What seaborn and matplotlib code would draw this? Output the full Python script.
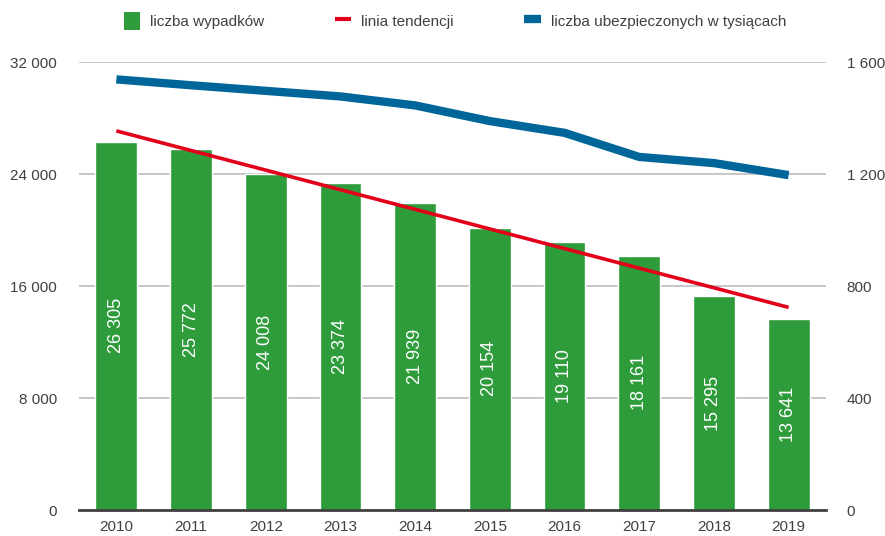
import numpy as np
import pandas as pd
import matplotlib
matplotlib.use("Agg")
import matplotlib.pyplot as plt
from matplotlib.lines import Line2D
from matplotlib.patches import Patch
import seaborn as sns

# ── data ───────────────────────────────────────────────────────────────────
years = ["2010", "2011", "2012", "2013", "2014",
         "2015", "2016", "2017", "2018", "2019"]
accidents = [26305, 25772, 24008, 23374, 21939,
             20154, 19110, 18161, 15295, 13641]
insured_k = [1538, 1517, 1497, 1477, 1445,
             1389, 1347, 1261, 1239, 1196]

left_ticks = [0, 8000, 16000, 24000, 32000]
right_ticks = [0, 400, 800, 1200, 1600]

GREEN = "#2e9c3b"
RED = "#e2001a"
BLUE = "#006699"
TEXT = "#404040"

sns.set_style("white")
plt.rcParams["font.family"] = ["Liberation Sans", "DejaVu Sans"]


def fmt(v):
    return f"{v:,.0f}".replace(",", " ")


df = pd.DataFrame({"rok": years, "wypadki": accidents, "ubezp": insured_k})
df["pos"] = np.arange(len(df))
# linear trend of the accidents (as the spreadsheet trendline would)
slope, icpt = np.polyfit(df["pos"], df["wypadki"], 1)
df["trend"] = icpt + slope * df["pos"]

fig = plt.figure(figsize=(8.85, 5.36), dpi=100)
ax = fig.add_axes([0.0893, 0.0485, 0.8440, 0.8358])

sns.barplot(data=df, x="rok", y="wypadki", color=GREEN, saturation=1,
            width=0.56, ax=ax, zorder=2)
sns.lineplot(data=df, x="pos", y="trend", color=RED, lw=2.6, ax=ax,
             zorder=3, solid_capstyle="butt")

for p, v in zip(ax.patches, accidents):
    ax.text(p.get_x() + p.get_width() / 2, v / 2, fmt(v), rotation=90,
            ha="center", va="center", color="white", fontsize=13)

ax.set_xlim(-0.5, len(years) - 0.5)
ax.set_ylim(0, 32000)
ax.set_yticks(left_ticks)
ax.set_yticklabels([fmt(t) for t in left_ticks])
ax.grid(axis="y", color="#bdbdbd", lw=1.2, zorder=0)
ax.set_axisbelow(True)
ax.set_xlabel("")
ax.set_ylabel("")
for s in ["left", "right", "top"]:
    ax.spines[s].set_visible(False)
ax.spines["bottom"].set_color(TEXT)
ax.spines["bottom"].set_linewidth(2)
ax.tick_params(axis="y", length=0, pad=15.8, labelsize=11, colors=TEXT)
ax.tick_params(axis="x", length=0, pad=7, labelsize=11, colors=TEXT)

ax2 = ax.twinx()
sns.lineplot(data=df, x="pos", y="ubezp", color=BLUE, lw=6, ax=ax2,
             solid_capstyle="butt")
ax2.set_ylim(0, 1600)
ax2.set_yticks(right_ticks)
ax2.set_yticklabels([fmt(t) for t in right_ticks])
ax2.set_ylabel("")
for s in ax2.spines.values():
    s.set_visible(False)
ax2.tick_params(axis="y", length=0, pad=15, labelsize=11, colors=TEXT)

handles = [
    Patch(facecolor=GREEN, edgecolor="none"),
    Line2D([0], [0], color=RED, lw=3, solid_capstyle="butt"),
    Line2D([0], [0], color=BLUE, lw=6, solid_capstyle="butt"),
]
labels = ["liczba wypadków", "linia tendencji",
          "liczba ubezpieczonych w tysiącach"]
fig.legend(handles, labels, loc="center", bbox_to_anchor=(0.514, 0.961),
           ncol=3, frameon=False, fontsize=11, labelcolor=TEXT,
           handlelength=1.1, handleheight=1.5, handletextpad=0.65,
           columnspacing=4.6)

fig.savefig("out.png", dpi=100)
plt.close(fig)
